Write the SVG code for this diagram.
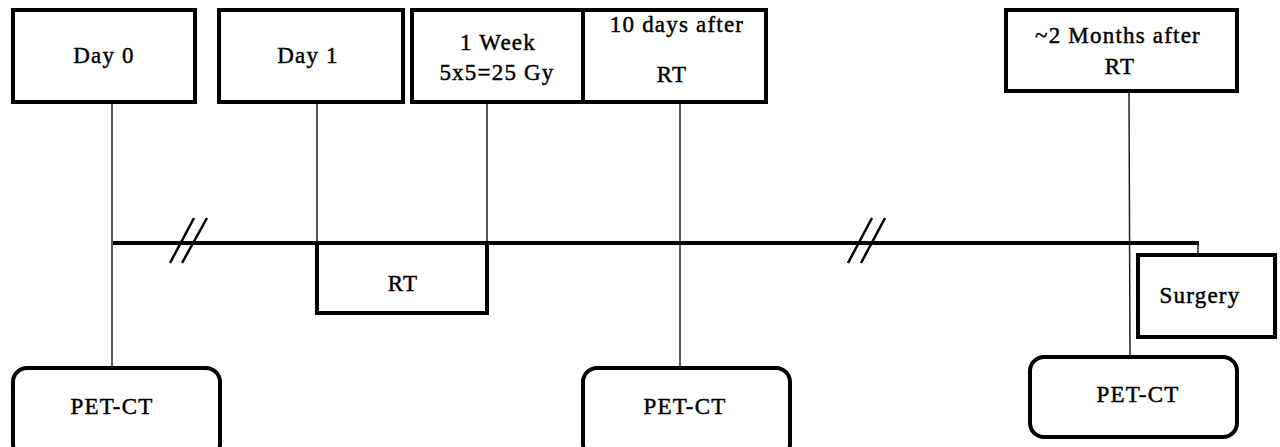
<svg xmlns="http://www.w3.org/2000/svg" width="1280" height="447" viewBox="0 0 1280 447">
<style>
.box{fill:#fff;stroke:#000;stroke-width:4}
.thin{stroke:#222;stroke-width:1.5;fill:none}
.brk{stroke:#000;stroke-width:2.5}
.thick{stroke:#000;stroke-width:4;fill:none}
text{font-family:"Liberation Serif","Times New Roman",serif;font-size:23px;fill:#000;stroke:#000;stroke-width:0.45;text-anchor:middle;letter-spacing:1.2px}
</style>
<rect width="1280" height="447" fill="#fff"/>
<g id="connectors">
<line class="thin" x1="112" y1="103" x2="112" y2="368"/>
<line class="thin" x1="317" y1="103" x2="317" y2="243"/>
<line class="thin" x1="487" y1="103" x2="487" y2="243"/>
<line class="thin" x1="680" y1="103" x2="680" y2="368"/>
<line class="thin" x1="1129" y1="91" x2="1130" y2="357"/>
<line class="thin" x1="1198" y1="243" x2="1198" y2="255"/>
<line class="thick" x1="113" y1="243" x2="1199" y2="243"/>
<line class="brk" x1="170" y1="263" x2="194" y2="218"/>
<line class="brk" x1="182" y1="263" x2="207" y2="218"/>
<line class="brk" x1="848" y1="263" x2="872" y2="218"/>
<line class="brk" x1="861" y1="263" x2="885" y2="218"/>
</g>
<g id="day0"><rect class="box" x="13" y="10" width="182" height="92"/><text x="104" y="63">Day 0</text></g>
<g id="day1"><rect class="box" x="219" y="10" width="184" height="92"/><text x="308" y="63">Day 1</text></g>
<g id="week"><rect class="box" x="412" y="10" width="171" height="92"/><text x="498" y="50">1 Week</text><text x="497" y="80">5x5=25 Gy</text></g>
<g id="tendays"><rect class="box" x="583" y="10" width="183" height="92"/><text x="677" y="32">10 days after</text><text x="672" y="82">RT</text></g>
<g id="twomonths"><rect class="box" x="1006" y="10" width="231" height="81"/><text x="1118" y="43">~2 Months after</text><text x="1120" y="74">RT</text></g>
<g id="rt"><path class="thick" d="M317 243 V313 H487 V243"/><text x="403" y="291">RT</text></g>
<g id="surgery"><rect class="box" x="1138" y="255" width="137" height="82"/><text x="1200" y="303">Surgery</text></g>
<g id="pet1"><rect class="box" x="13" y="368" width="207" height="90" rx="14"/><text x="112" y="414">PET-CT</text></g>
<g id="pet2"><rect class="box" x="583" y="368" width="207" height="90" rx="14"/><text x="685" y="414">PET-CT</text></g>
<g id="pet3"><rect class="box" x="1030" y="357" width="207" height="80" rx="14"/><text x="1138" y="402">PET-CT</text></g>
</svg>
